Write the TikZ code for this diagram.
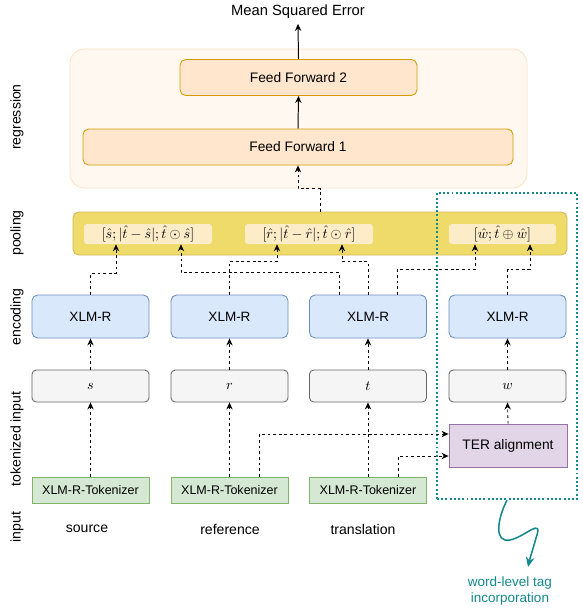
\documentclass[tikz,border=0pt]{standalone}
\usepackage{fontspec}
\usepackage{amsmath}
\setmainfont{Liberation Sans}
\usetikzlibrary{arrows.meta,calc}
\newcommand{\px}{0.025cm}
\definecolor{regfill}{HTML}{FFF8F0}
\definecolor{regline}{HTML}{FBE3C4}
\definecolor{fffill}{HTML}{FFE6CC}
\definecolor{ffline}{HTML}{D79B00}
\definecolor{poolfill}{HTML}{EEDB6A}
\definecolor{poolline}{HTML}{D6B656}
\definecolor{vecfill}{HTML}{FCEDC8}
\definecolor{encfill}{HTML}{DAE8FC}
\definecolor{encline}{HTML}{6C8EBF}
\definecolor{tokfill}{HTML}{F5F5F5}
\definecolor{tokline}{HTML}{666666}
\definecolor{terfill}{HTML}{E1D5E7}
\definecolor{terline}{HTML}{9673A6}
\definecolor{tzfill}{HTML}{D5E8D4}
\definecolor{tzline}{HTML}{82B366}
\definecolor{wlteal}{HTML}{14898C}
\tikzstyle{none}=[]
\tikzstyle{lbl}=[font=\fontsize{10}{12}\selectfont]
\tikzstyle{side}=[lbl, rotate=90]
\tikzstyle{regbg}=[draw=regline, fill=regfill, line width=0.6pt, rounded corners=10pt, minimum width=457*\px, minimum height=139*\px]
\tikzstyle{ff}=[draw=ffline, fill=fffill, line width=0.6pt, rounded corners=4pt, minimum height=36*\px, font=\fontsize{9.8}{12}\selectfont]
\tikzstyle{poolbar}=[draw=poolline, fill=poolfill, line width=0.6pt, rounded corners=4pt, minimum width=494*\px, minimum height=43*\px]
\tikzstyle{vec}=[fill=vecfill, rounded corners=2pt, minimum height=20*\px, inner sep=0pt, font=\fontsize{10}{11}\selectfont]
\tikzstyle{enc}=[draw=encline, fill=encfill, line width=0.6pt, rounded corners=4pt, minimum width=117*\px, minimum height=43*\px, font=\fontsize{9.6}{12}\selectfont]
\tikzstyle{tok}=[draw=tokline, fill=tokfill, line width=0.6pt, rounded corners=3pt, minimum width=117*\px, minimum height=32*\px]
\tikzstyle{ter}=[draw=terline, fill=terfill, line width=0.6pt, minimum width=118*\px, minimum height=43*\px, font=\fontsize{9.8}{12}\selectfont]
\tikzstyle{tkz}=[draw=tzline, fill=tzfill, line width=0.6pt, minimum width=117*\px, minimum height=26*\px, inner sep=0pt, font=\fontsize{8.9}{11}\selectfont]
\tikzstyle{solidarrow}=[line width=0.7pt, -{Stealth[length=5pt, width=4.5pt]}]
\tikzstyle{dasharrow}=[line width=0.6pt, dash pattern=on 2pt off 2pt, -{Stealth[length=5pt, width=4.5pt]}]
\tikzstyle{wlbox}=[wlteal, line width=1.5pt, dash pattern=on 1.4pt off 1.6pt]

\begin{document}
\begin{tikzpicture}[x=\px, y=-\px]
                \useasboundingbox (0, 0) rectangle (583, 608);
                % regression
                \node [style=lbl, font=\fontsize{10.5}{12}\selectfont] (0) at (298, 12) {Mean Squared Error};
                \node [style=regbg] (1) at (298.5, 118.5) {};
                \node [style=ff, minimum width=237*\px] (2) at (298.5, 77.5) {Feed Forward 2};
                \node [style=ff, minimum width=430*\px] (3) at (298, 147) {Feed Forward 1};
                % pooling
                \node [style=poolbar] (4) at (320, 233.5) {};
                \node [style=vec, minimum width=128*\px] (5) at (148, 234) {$[\hat{s};|\hat{t}-\hat{s}|;\hat{t}\odot\hat{s}]$};
                \node [style=vec, minimum width=128*\px] (6) at (309, 234) {$[\hat{r};|\hat{t}-\hat{r}|;\hat{t}\odot\hat{r}]$};
                \node [style=vec, minimum width=107*\px] (7) at (502.5, 234) {$[\hat{w};\hat{t}\oplus\hat{w}]$};
                % encoding
                \node [style=enc] (8) at (90.5, 316.5) {XLM-R};
                \node [style=enc] (9) at (229.5, 316.5) {XLM-R};
                \node [style=enc] (10) at (368, 316.5) {XLM-R};
                \node [style=enc] (11) at (507.5, 316.5) {XLM-R};
                % tokenized input
                \node [style=tok] (12) at (90.5, 386) {$s$};
                \node [style=tok] (13) at (229.5, 386) {$r$};
                \node [style=tok] (14) at (368, 386) {$t$};
                \node [style=tok] (15) at (507.5, 386) {$w$};
                \node [style=ter] (16) at (508, 445.5) {TER alignment};
                % input
                \node [style=tkz] (17) at (90.5, 490) {XLM-R-Tokenizer};
                \node [style=tkz] (18) at (229.5, 490) {XLM-R-Tokenizer};
                \node [style=tkz] (19) at (368, 490) {XLM-R-Tokenizer};
                \node [style=lbl] (20) at (87, 529) {source};
                \node [style=lbl] (21) at (230, 529) {reference};
                \node [style=lbl] (22) at (363, 529) {translation};
                % row names
                \node [style=side] (23) at (17, 117) {regression};
                \node [style=side] (24) at (17, 233) {pooling};
                \node [style=side] (25) at (17, 317) {encoding};
                \node [style=side] (26) at (17, 439) {tokenized input};
                \node [style=side] (27) at (17, 527) {input};
                % word-level tags
                \node [style=none, draw=wlteal, wlbox, minimum width=140*\px, minimum height=306*\px] (29) at (507, 346) {};
                \node [style=lbl, text=wlteal, align=center, font=\fontsize{9.6}{11}\selectfont] (28) at (510, 591) {word-level tag\\incorporation};
                \coordinate (30) at ($(29.south)+(0, 0)$);
                \coordinate (31) at ($(28.north)+(18, -5)$);
                \draw [wlteal, line width=1.1pt, -{Stealth[length=7pt, width=6pt, open]}] (30) .. controls (497, 520) and (494, 543) .. (510, 540) .. controls (525, 537) and (544, 516) .. (536, 538) .. controls (533, 549) and (530, 558) .. (31);
                % arrows
                \draw [style=solidarrow] (2.north) to (0.south);
                \draw [style=solidarrow] (3.north) to (2.south);
                \draw [style=dasharrow] (4.north) -- ++(0, -23) -| (3.south);
                \draw [style=dasharrow] (8.north) -- ++(0, -21) -| ($(5.south)+(-32, 0)$);
                \draw [style=dasharrow] ($(10.north)+(-29, 0)$) -- ++(0, -22) -| ($(5.south)+(33, 0)$);
                \draw [style=dasharrow] (9.north) -- ++(0, -33) -| ($(6.south)+(-32, 0)$);
                \draw [style=dasharrow] (10.north) -- ++(0, -33) -| ($(6.south)+(33, 0)$);
                \draw [style=dasharrow] ($(10.north)+(29, 0)$) -- ++(0, -25) -| ($(7.south)+(-27.5, 0)$);
                \draw [style=dasharrow] (11.north) -- ++(0, -25) -| ($(7.south)+(27.5, 0)$);
                \draw [style=dasharrow] (12.north) to (8.south);
                \draw [style=dasharrow] (13.north) to (9.south);
                \draw [style=dasharrow] (14.north) to (10.south);
                \draw [style=dasharrow] (15.north) to (11.south);
                \draw [style=dasharrow] (16.north) to (15.south);
                \draw [style=dasharrow] (17.north) to (12.south);
                \draw [style=dasharrow] (18.north) to (13.south);
                \draw [style=dasharrow] (19.north) to (14.south);
                \draw [style=dasharrow] ($(18.north)+(30, 0)$) |- ($(16.west)+(0, -11.5)$);
                \draw [style=dasharrow] ($(19.north)+(30, 0)$) |- ($(16.west)+(0, 10.5)$);
    \end{tikzpicture}
\end{document}
